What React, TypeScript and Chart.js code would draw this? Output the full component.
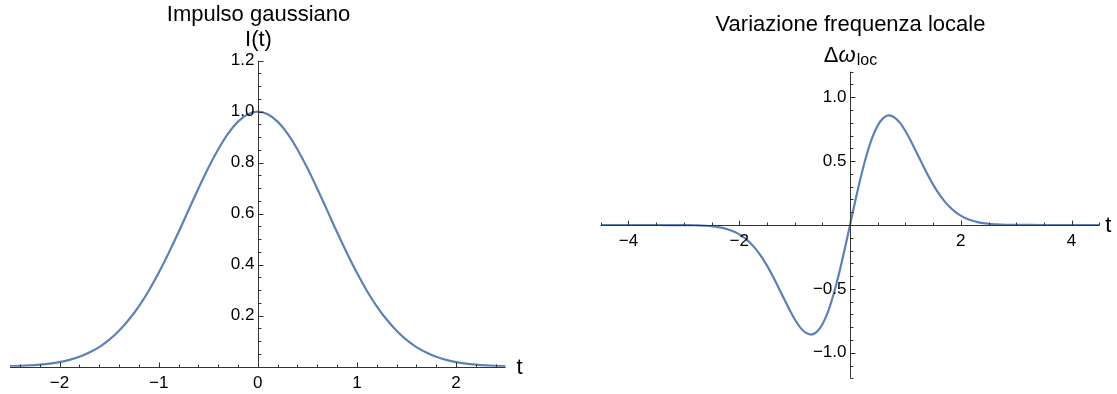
import React, { useEffect, useRef } from 'react';
import { Chart, registerables } from 'chart.js';

Chart.register(...registerables);

// ---- Data ----
const gaussT = [-2.5, -2.4, -2.3, -2.2, -2.1, -2, -1.9, -1.8, -1.7, -1.6, -1.5, -1.4, -1.3, -1.2, -1.1, -1, -0.9, -0.8, -0.7, -0.6, -0.5, -0.4, -0.3, -0.2, -0.1, 0, 0.1, 0.2, 0.3, 0.4, 0.5, 0.6, 0.7, 0.8, 0.9, 1, 1.1, 1.2, 1.3, 1.4, 1.5, 1.6, 1.7, 1.8, 1.9, 2, 2.1, 2.2, 2.3, 2.4, 2.5];
const gaussI = [0.002, 0.003, 0.005, 0.008, 0.012, 0.018, 0.027, 0.039, 0.056, 0.077, 0.105, 0.141, 0.185, 0.237, 0.298, 0.368, 0.445, 0.527, 0.613, 0.698, 0.779, 0.852, 0.914, 0.961, 0.99, 1.0, 0.99, 0.961, 0.914, 0.852, 0.779, 0.698, 0.613, 0.527, 0.445, 0.368, 0.298, 0.237, 0.185, 0.141, 0.105, 0.077, 0.056, 0.039, 0.027, 0.018, 0.012, 0.008, 0.005, 0.003, 0.002];

const freqT = [-4.5, -4, -3.5, -3, -2.9, -2.8, -2.7, -2.6, -2.5, -2.4, -2.3, -2.2, -2.1, -2, -1.9, -1.8, -1.7, -1.6, -1.5, -1.4, -1.3, -1.2, -1.1, -1, -0.9, -0.8, -0.7, -0.6, -0.5, -0.4, -0.3, -0.2, -0.1, 0, 0.1, 0.2, 0.3, 0.4, 0.5, 0.6, 0.7, 0.8, 0.9, 1, 1.1, 1.2, 1.3, 1.4, 1.5, 1.6, 1.7, 1.8, 1.9, 2, 2.1, 2.2, 2.3, 2.4, 2.5, 2.6, 2.7, 2.8, 2.9, 3, 3.5, 4, 4.5];
const freqW = [0, 0, 0, -0.001, -0.001, -0.002, -0.004, -0.006, -0.01, -0.015, -0.023, -0.035, -0.051, -0.073, -0.103, -0.141, -0.189, -0.247, -0.316, -0.395, -0.481, -0.569, -0.656, -0.736, -0.801, -0.843, -0.858, -0.837, -0.779, -0.682, -0.548, -0.384, -0.198, 0, 0.198, 0.384, 0.548, 0.682, 0.779, 0.837, 0.858, 0.843, 0.801, 0.736, 0.656, 0.569, 0.481, 0.395, 0.316, 0.247, 0.189, 0.141, 0.103, 0.073, 0.051, 0.035, 0.023, 0.015, 0.01, 0.006, 0.004, 0.002, 0.001, 0.001, 0, 0, 0];

// Tick labels
const leftXTicks = [-2, -1, 0, 1, 2];
const leftYTicks = [0.2, 0.4, 0.6, 0.8, 1.0, 1.2];
const rightXTicks = [-4, -2, 2, 4];
const rightYTicks = [-1.0, -0.5, 0.5, 1.0];

const FONT = '"Liberation Sans", Arial, Helvetica, sans-serif';
const CURVE = '#5E81B5';
const AXIS = '#333333';

type Panel = {
  t: number[];
  v: number[];
  xMin: number; xMax: number; yMin: number; yMax: number;
  xMinor: number; yMinor: number;
  xMajor: number[]; yMajor: number[];
  xLabels: number[]; yLabels: number[];
  padding: { left: number; right: number; top: number; bottom: number };
  width: number; offset: number;
  title: string; titleY: number;
  yLabel: 'I' | 'omega'; yLabelY: number;
  tGap: number;
};

const leftPanel: Panel = {
  t: gaussT, v: gaussI,
  xMin: -2.5, xMax: 2.5, yMin: 0, yMax: 1.2,
  xMinor: 0.2, yMinor: 0.05,
  xMajor: [-2, -1, 0, 1, 2], yMajor: [0.2, 0.4, 0.6, 0.8, 1.0, 1.2],
  xLabels: leftXTicks, yLabels: leftYTicks,
  padding: { left: 10, right: 558 - 505.6, top: 60.7, bottom: 394 - 366.7 },
  width: 558, offset: 0,
  title: 'Impulso gaussiano', titleY: 15,
  yLabel: 'I', yLabelY: 40,
  tGap: 11,
};

const rightPanel: Panel = {
  t: freqT, v: freqW,
  xMin: -4.5, xMax: 4.5, yMin: -1.2, yMax: 1.2,
  xMinor: 0.5, yMinor: 0.1,
  xMajor: [-4, -2, 0, 2, 4], yMajor: [-1, -0.5, 0.5, 1],
  xLabels: rightXTicks, yLabels: rightYTicks,
  padding: { left: 600.7 - 558, right: 559 - (1099.3 - 558), top: 71.7, bottom: 394 - 378.3 },
  width: 559, offset: 558,
  title: 'Variazione frequenza locale', titleY: 25,
  yLabel: 'omega', yLabelY: 54,
  tGap: 6,
};

function steps(min: number, max: number, step: number): number[] {
  const out: number[] = [];
  const n0 = Math.ceil(min / step - 1e-9);
  const n1 = Math.floor(max / step + 1e-9);
  for (let n = n0; n <= n1; n++) out.push(+(n * step).toFixed(6));
  return out;
}

const isIn = (v: number, arr: number[]) => arr.some((a) => Math.abs(a - v) < 1e-6);
const fmtX = (v: number) => (v < 0 ? '\u2212' : '') + String(Math.abs(v));
const fmtY = (v: number) => (v < 0 ? '\u2212' : '') + Math.abs(v).toFixed(1);

function makeAxesPlugin(p: Panel) {
  return {
    id: 'mmaAxes',
    afterDatasetsDraw(chart: any) {
      const { ctx, chartArea } = chart;
      const xs = chart.scales.x;
      const ys = chart.scales.y;
      const x0 = Math.round(xs.getPixelForValue(0)) + 0.5;
      const y0 = Math.round(ys.getPixelForValue(0)) + 0.5;
      ctx.save();
      ctx.strokeStyle = AXIS;
      ctx.lineWidth = 1;
      // axis lines
      ctx.beginPath();
      ctx.moveTo(chartArea.left, y0);
      ctx.lineTo(chartArea.right, y0);
      ctx.moveTo(x0, ys.getPixelForValue(p.yMin));
      ctx.lineTo(x0, ys.getPixelForValue(p.yMax));
      ctx.stroke();
      // x ticks (upwards)
      ctx.beginPath();
      for (const v of steps(p.xMin, p.xMax, p.xMinor)) {
        const px = Math.round(xs.getPixelForValue(v)) + 0.5;
        const len = isIn(v, p.xMajor) ? 5 : 3;
        ctx.moveTo(px, y0);
        ctx.lineTo(px, y0 - len);
      }
      // y ticks (rightwards)
      for (const v of steps(p.yMin, p.yMax, p.yMinor)) {
        const py = Math.round(ys.getPixelForValue(v)) + 0.5;
        const len = isIn(v, p.yMajor) ? 5 : 3;
        ctx.moveTo(x0, py);
        ctx.lineTo(x0 + len, py);
      }
      ctx.stroke();

      // tick labels
      ctx.fillStyle = '#000';
      ctx.font = `17px ${FONT}`;
      ctx.textAlign = 'center';
      ctx.textBaseline = 'middle';
      for (const v of p.xLabels) {
        ctx.fillText(fmtX(v), xs.getPixelForValue(v), y0 + 16);
      }
      ctx.textAlign = 'right';
      for (const v of p.yLabels) {
        ctx.fillText(fmtY(v), x0 - 4, ys.getPixelForValue(v));
      }

      // axis label t
      ctx.font = `22px ${FONT}`;
      ctx.textAlign = 'left';
      ctx.fillText('t', chartArea.right + p.tGap, y0);

      // title
      ctx.textAlign = 'center';
      ctx.fillText(p.title, x0, p.titleY);

      // y-axis label
      if (p.yLabel === 'I') {
        ctx.fillText('I(t)', x0, p.yLabelY);
      } else {
        const big = `22px ${FONT}`;
        const ital = `italic 22px ${FONT}`;
        const small = `16px ${FONT}`;
        ctx.font = big; const wD = ctx.measureText('\u0394').width;
        ctx.font = ital; const wW = ctx.measureText('\u03C9').width;
        ctx.font = small; const wL = ctx.measureText('loc').width;
        const total = wD + wW + 1 + wL;
        let sx = x0 - total / 2;
        const base = p.yLabelY + 8;
        ctx.textAlign = 'left';
        ctx.textBaseline = 'alphabetic';
        ctx.font = big; ctx.fillText('\u0394', sx, base); sx += wD;
        ctx.font = ital; ctx.fillText('\u03C9', sx, base); sx += wW + 1;
        ctx.font = small; ctx.fillText('loc', sx, base + 3);
      }
      ctx.restore();
    },
  };
}

function PanelChart({ panel }: { panel: Panel }) {
  const ref = useRef<HTMLCanvasElement>(null);
  useEffect(() => {
    const points = panel.t.map((t, i) => ({ x: t, y: panel.v[i] }));
    const chart = new Chart(ref.current as HTMLCanvasElement, {
      type: 'line',
      data: {
        datasets: [
          {
            data: points,
            borderColor: CURVE,
            borderWidth: 2.2,
            pointRadius: 0,
            fill: false,
            cubicInterpolationMode: 'monotone',
          } as any,
        ],
      },
      options: {
        responsive: false,
        animation: false,
        events: [],
        layout: { padding: panel.padding },
        plugins: { legend: { display: false }, title: { display: false }, tooltip: { enabled: false } },
        scales: {
          x: { type: 'linear', min: panel.xMin, max: panel.xMax, display: false },
          y: { type: 'linear', min: panel.yMin, max: panel.yMax, display: false },
        },
      },
      plugins: [makeAxesPlugin(panel)],
    });
    return () => chart.destroy();
  }, [panel]);
  return (
    <canvas
      ref={ref}
      width={panel.width}
      height={394}
      style={{ position: 'absolute', left: panel.offset, top: 0, width: panel.width, height: 394 }}
    />
  );
}

export default function App() {
  return (
    <div style={{ position: 'fixed', left: 0, top: 0, width: 1117, height: 394, background: '#ffffff', overflow: 'hidden' }}>
      <PanelChart panel={leftPanel} />
      <PanelChart panel={rightPanel} />
    </div>
  );
}
